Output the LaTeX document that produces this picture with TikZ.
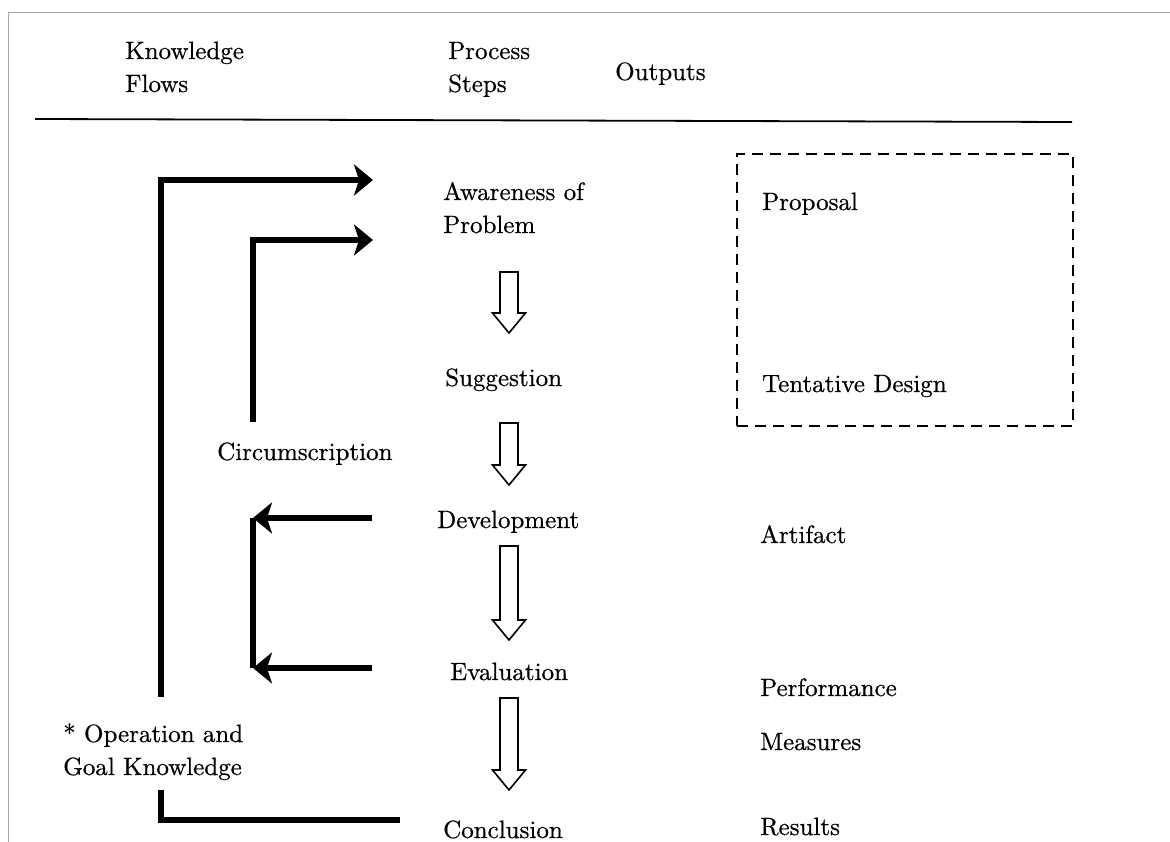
\documentclass[tikz,border=0pt]{standalone}
\usepackage{fontspec}
\setmainfont{lmroman10-regular.otf}[FakeBold=0.6]
\usetikzlibrary{arrows.meta}
\begin{document}
\begin{tikzpicture}[x=1pt,y=-1pt,
  lbl/.style={anchor=base west,inner sep=0pt,font=\fontsize{25}{33}\selectfont,align=left},
  flow/.style={line width=6pt,line cap=butt,line join=miter},
  flowarrow/.style={flow,-{Stealth[length=19pt,width=31pt,inset=5pt]}},
  hollow/.style={draw,line width=1.6pt,line join=miter,fill=white},
  outbox/.style={draw,line width=1.6pt,dash pattern=on 11pt off 7pt}]
\useasboundingbox (0,0) rectangle (1170,842);
% hollow block arrow pointing down: shaft top at #2, tip at #3
\newcommand\stepArrow[3]{%
  \coordinate (#1) at (509,#2);
  \draw[hollow] (500,#2) -- (518,#2) -- (518,#3-20) -- (525.5,#3-20) -- (509,#3)
    -- (492.5,#3-20) -- (500,#3-20) -- cycle;}
% frame
\draw[gray!70,line width=0.8pt] (8,842) -- (8,12) -- (1170,12);
% column headings and rule
\node[lbl] (hk) at (125,92) {Knowledge\\Flows};
\node[lbl] (hp) at (448,92) {Process\\Steps};
\node[lbl] (ho) at (615,80) {Outputs};
\draw[line width=1.8pt] (35,119) -- (1072,122);
% process steps
\node[lbl] (aw) at (443,233) {Awareness of\\Problem};
\node[lbl] (sg) at (445,386) {Suggestion};
\node[lbl] (dv) at (437,528) {Development};
\node[lbl] (ev) at (450,680) {Evaluation};
\node[lbl] (cn) at (443,838) {Conclusion};
% hollow arrows between steps
\stepArrow{a1}{272}{333}
\stepArrow{a2}{423}{485}
\stepArrow{a3}{546}{640}
\stepArrow{a4}{698}{790}
% outputs
\node[outbox,minimum width=336pt,minimum height=272pt,anchor=north west] (box) at (736,153) {};
\node[lbl] (op) at (762,210) {Proposal};
\node[lbl] (otd) at (762,392) {Tentative Design};
\node[lbl] (oar) at (760,543) {Artifact};
\node[lbl] (ope) at (760,696) {Performance};
\node[lbl] (ome) at (760,750) {Measures};
\node[lbl] (ore) at (760,835) {Results};
% knowledge flow labels
\node[lbl] (circ) at (217,460) {Circumscription};
\node[lbl] (og) at (63,775) {* Operation and\\Goal Knowledge};
% knowledge flow connectors
\coordinate (oTop) at (161,180);
\coordinate (oBot) at (161,697);
\coordinate (oTip) at (373,180);
\coordinate (iTop) at (253,240);
\coordinate (iEnd) at (253,422);
\coordinate (iTip) at (373,240);
\coordinate (dStart) at (372,518);
\coordinate (dTip) at (253,518);
\coordinate (eStart) at (372,668);
\coordinate (eTip) at (253,668);
\coordinate (cCorner) at (161,820);
\coordinate (cTop) at (161,790);
\coordinate (cEnd) at (400,820);
\draw[flowarrow] (oBot) -- (oTop) -- (oTip);
\draw[flowarrow] (iEnd) -- (iTop) -- (iTip);
\draw[flow] (eTip) -- (dTip);
\draw[flowarrow] (dStart) -- (dTip);
\draw[flowarrow] (eStart) -- (eTip);
\draw[flow] (cTop) -- (cCorner) -- (cEnd);
\end{tikzpicture}
\end{document}
